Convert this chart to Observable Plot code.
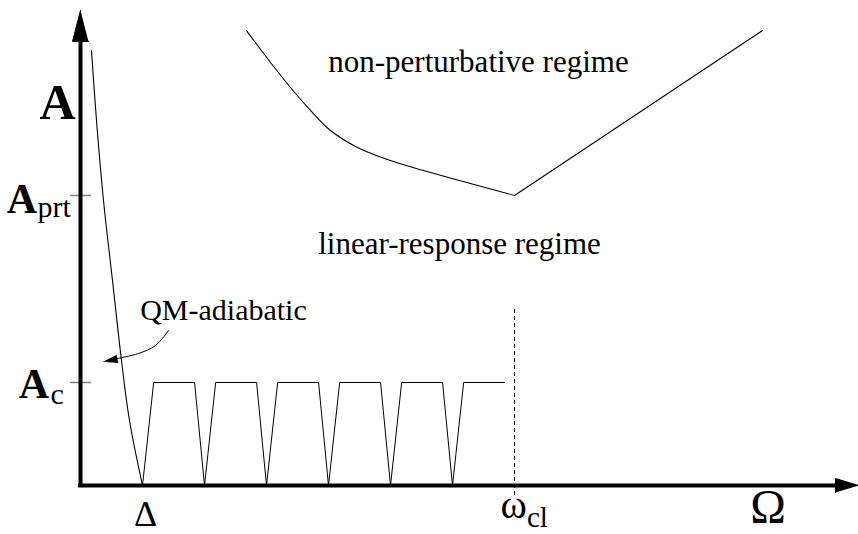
<!DOCTYPE html>
<html>
<head>
<meta charset="utf-8">
<script src="https://cdn.jsdelivr.net/npm/d3@7"></script>
<script src="https://cdn.jsdelivr.net/npm/@observablehq/plot@0.6"></script>
<style>
  html, body { margin: 0; padding: 0; background: #fff; }
  #chart svg { display: block; }
</style>
</head>
<body>
<div id="chart"></div>
<script>
// Units: x in Ω units (Δ = 1, ω_cl = 7); y in A units (A_c = 1, A_prt ≈ 2.82)
const Delta = 1;
const omegaCl = 7;
const Ac = 1;
const Aprt = 2.816;

// QM-adiabatic branch (steep curve from the top down to Δ)
const adiabaticX = [0.177, 0.258, 0.371, 0.516, 0.661, 0.790, 1.0];
const adiabaticY = [4.223, 3.544, 2.767, 1.990, 1.214, 0.631, 0];

// Comb of trapezoids at A_c between Δ and ω_cl
const combX = [1, 1.18, 1.84, 2, 2.18, 2.84, 3, 3.18, 3.84, 4, 4.18, 4.84, 5, 5.18, 5.84, 6, 6.18, 6.84];
const combY = [0, 1, 1, 0, 1, 1, 0, 1, 1, 0, 1, 1, 0, 1, 1, 0, 1, 1];

// Boundary between linear-response and non-perturbative regimes
const leftBranchX = [2.677, 3.065, 3.387, 3.710, 4.032, 4.468, 5.0, 5.532, 7.0];
const leftBranchY = [4.417, 4.107, 3.864, 3.641, 3.447, 3.282, 3.155, 3.058, 2.816];
const rightBranchX = [7.0, 11.0];
const rightBranchY = [2.816, 4.417];

// dashed ω_cl marker
const dashedY = [1.709, -0.097];

// QM-adiabatic pointer
const pointerX = [1.419, 1.210, 0.935, 0.597];
const pointerY = [1.505, 1.359, 1.282, 1.233];
const pointerHeadX = [0.371, 0.605, 0.579];
const pointerHeadY = [1.204, 1.192, 1.268];

// axis arrowheads
const yHeadX = [0, -0.129, 0.129];
const yHeadY = [4.612, 4.311, 4.311];
const xHeadX = [12.548, 12.177, 12.177];
const xHeadY = [0, 0.068, -0.068];

const zip = (xs, ys) => xs.map((x, i) => ({x, y: ys[i]}));

const W = 858, H = 534;
const PX = 62, PY = 103, OX = 80, OY = 485;
const serif = "Liberation Serif, Times New Roman, serif";

const label = (t, x, y, size, opts = {}) =>
  Plot.text([t], {x, y, text: d => d, fontSize: size, fontFamily: serif, textAnchor: "middle", lineAnchor: "bottom", fill: "#000", ...opts});

const plot = Plot.plot({
  width: W, height: H,
  margin: 0,
  x: {domain: [-OX / PX, (W - OX) / PX], axis: null},
  y: {domain: [(OY - H) / PY, OY / PY], axis: null},
  style: {background: "#fff", fontFamily: serif},
  marks: [
    // ticks
    Plot.ruleY([Aprt, Ac], {x1: -0.161, x2: 0.177, stroke: "#808080", strokeWidth: 1.5}),
    // axes
    Plot.ruleX([0], {y1: -0.02, y2: 4.33, stroke: "#000", strokeWidth: 4}),
    Plot.ruleY([0], {x1: -0.032, x2: 12.2, stroke: "#000", strokeWidth: 4}),
    Plot.line(zip(yHeadX, yHeadY), {x: "x", y: "y", fill: "#000", stroke: "#000", strokeWidth: 1}),
    Plot.line(zip(xHeadX, xHeadY), {x: "x", y: "y", fill: "#000", stroke: "#000", strokeWidth: 1}),
    // curves
    Plot.line(zip(adiabaticX, adiabaticY), {x: "x", y: "y", curve: "catmull-rom", stroke: "#000", strokeWidth: 1.1}),
    Plot.line(zip(combX, combY), {x: "x", y: "y", stroke: "#000", strokeWidth: 1}),
    Plot.line(zip(leftBranchX, leftBranchY), {x: "x", y: "y", curve: "catmull-rom", stroke: "#000", strokeWidth: 1.1}),
    Plot.line(zip(rightBranchX, rightBranchY), {x: "x", y: "y", stroke: "#000", strokeWidth: 1.1}),
    Plot.ruleX([omegaCl], {y1: dashedY[0], y2: dashedY[1], stroke: "#000", strokeWidth: 1, strokeDasharray: "4,3"}),
    // pointer
    Plot.line(zip(pointerX, pointerY), {x: "x", y: "y", curve: "catmull-rom", stroke: "#000", strokeWidth: 1}),
    Plot.line(zip(pointerHeadX, pointerHeadY), {x: "x", y: "y", fill: "#000", stroke: "#000", strokeWidth: 0.5}),
    // labels
    label("A", -0.371, 3.563, 50, {fontWeight: "bold"}),
    label("A", -0.944, 2.650, 42, {fontWeight: "bold"}),
    label("prt", -0.694, 2.602, 30, {textAnchor: "start"}),
    label("A", -0.75, 0.854, 42, {fontWeight: "bold"}),
    label("c", -0.484, 0.796, 30, {textAnchor: "start"}),
    label("Δ", 1.048, -0.398, 36),
    label("ω", 6.774, -0.32, 40, {textAnchor: "start"}),
    label("cl", 7.2, -0.40, 29, {textAnchor: "start"}),
    label("Ω", 11.089, -0.36, 48)
    ,
    label("non-perturbative regime", 6.419, 4.010, 31),
    label("linear-response regime", 6.113, 2.252, 31),
    label("QM-adiabatic", 2.306, 1.602, 30)
  ]
});
document.getElementById("chart").appendChild(plot);
</script>
</body>
</html>
